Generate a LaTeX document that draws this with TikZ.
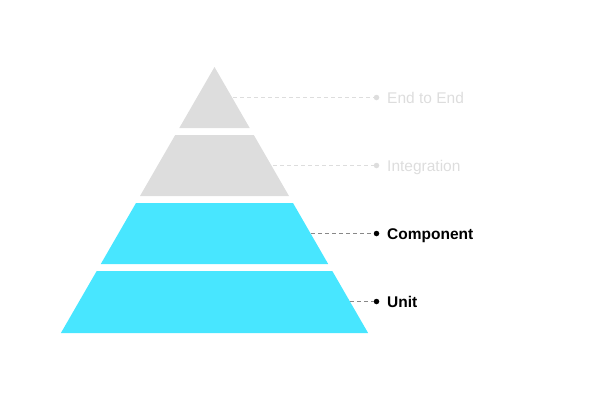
\documentclass[tikz,border=0pt]{standalone}
\usepackage{fontspec}
\setmainfont{Liberation Sans}
\definecolor{tiergray}{HTML}{DDDDDD}
\definecolor{tiercyan}{HTML}{48E6FF}
\definecolor{lightlbl}{HTML}{DDDDDD}
\definecolor{darkdash}{HTML}{888888}
\begin{document}
\begin{tikzpicture}[x=1pt,y=-1pt,
  leader/.style={dash pattern=on 4pt off 3pt, line width=0.9pt},
  dotnode/.style={circle, inner sep=0pt, minimum size=5.5pt},
  lbl/.style={anchor=base west, inner sep=0pt, font=\fontsize{15.5}{18}\selectfont},
  blbl/.style={lbl, font=\fontsize{15.5}{18}\selectfont\bfseries}]
\useasboundingbox (0,0) rectangle (600,400);
% tiers
\fill[tiergray] (214.5,67) -- (249.7,128) -- (179.3,128) -- cycle;
\fill[tiergray] (175.2,135) -- (253.8,135) -- (289,196) -- (140,196) -- cycle;
\fill[tiercyan] (136,203) -- (293,203) -- (328.2,264) -- (100.8,264) -- cycle;
\fill[tiercyan] (96.7,271) -- (332.3,271) -- (368.1,333) -- (60.9,333) -- cycle;
% edge coordinates
\coordinate (e1) at (233,97.5);
\coordinate (e2) at (273,165.5);
\coordinate (e3) at (311,233.5);
\coordinate (e4) at (350,301.5);
% dots
\node[dotnode, fill=lightlbl] (d1) at (376.5,97.5) {};
\node[dotnode, fill=lightlbl] (d2) at (376.5,165.5) {};
\node[dotnode, fill=black] (d3) at (376.5,233.5) {};
\node[dotnode, fill=black] (d4) at (376.5,301.5) {};
% labels
\node[lbl, text=lightlbl] (t1) at (387,103.2) {End to End};
\node[lbl, text=lightlbl] (t2) at (387,171.2) {Integration};
\node[blbl, text=black] (t3) at (387,239.2) {Component};
\node[blbl, text=black] (t4) at (387,307.2) {Unit};
% leaders
\draw[leader, lightlbl] (e1) -- (d1);
\draw[leader, lightlbl] (e2) -- (d2);
\draw[leader, darkdash] (e3) -- (d3);
\draw[leader, darkdash] (e4) -- (d4);
\end{tikzpicture}
\end{document}
